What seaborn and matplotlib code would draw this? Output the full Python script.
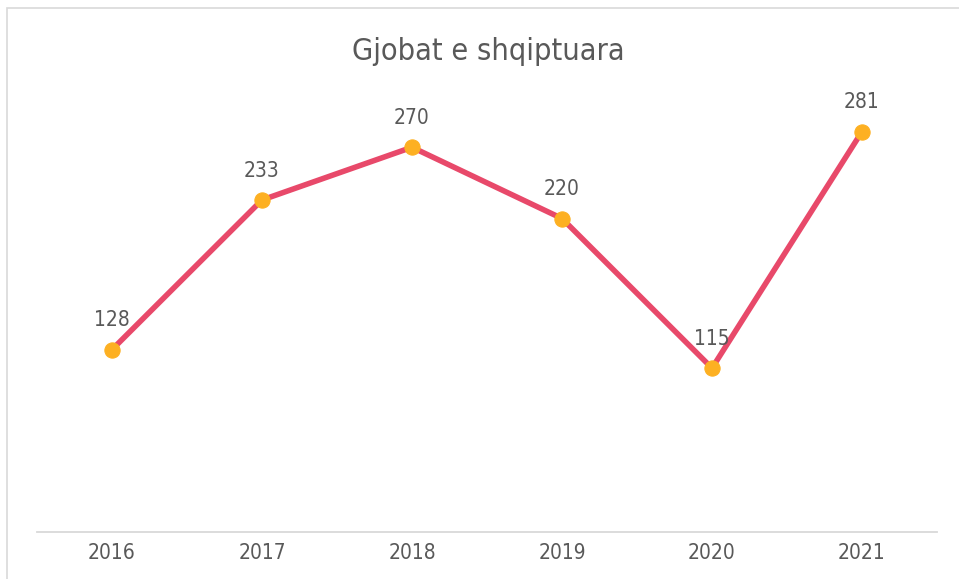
import matplotlib
matplotlib.use("Agg")
import matplotlib.pyplot as plt
import seaborn as sns
import pandas as pd
from matplotlib.patches import Rectangle

years = ["2016", "2017", "2018", "2019", "2020", "2021"]
values = [128, 233, 270, 220, 115, 281]
title = "Gjobat e shqiptuara"

sns.set_theme(style="white")
plt.rcParams['font.family'] = ['DejaVu Sans']
plt.rcParams['font.stretch'] = 'condensed'

df = pd.DataFrame({"year": years, "value": values})
W, H = 959, 579
fig = plt.figure(figsize=(W / 100, H / 100), dpi=100)
ax = fig.add_axes([37 / W, (H - 532) / H, 900 / W, (532 - 104.5) / H])

sns.lineplot(data=df, x="year", y="value", ax=ax, color="#E8496A", linewidth=4,
             marker="o", markersize=11, markerfacecolor="#FDB022",
             markeredgecolor="#FDB022", sort=False)
ax.set_xlim(-0.5, len(years) - 0.5)
ax.set_ylim(0, 300)
ax.set_xlabel("")
ax.set_ylabel("")
ax.set_yticks([])
ax.tick_params(axis="x", length=0, pad=8, labelsize=15, labelcolor="#595959")
for s in ["top", "right", "left"]:
    ax.spines[s].set_visible(False)
ax.spines["bottom"].set_color("#D9D9D9")
ax.spines["bottom"].set_linewidth(1.3)

for i, v in enumerate(values):
    ax.annotate(str(v), (i, v), xytext=(0, 14), textcoords="offset points",
                ha="center", va="bottom", fontsize=15, color="#595959")

fig.text(488 / W, 1 - 52 / H, title, ha="center", va="center",
         fontsize=22, color="#595959")

fig.patches.append(Rectangle((6.5 / W, -0.1), 1.2, 1 - 7.5 / H + 0.1,
                             transform=fig.transFigure, fill=False,
                             edgecolor="#D9D9D9", linewidth=1.2))

fig.savefig("out.png", dpi=100)
